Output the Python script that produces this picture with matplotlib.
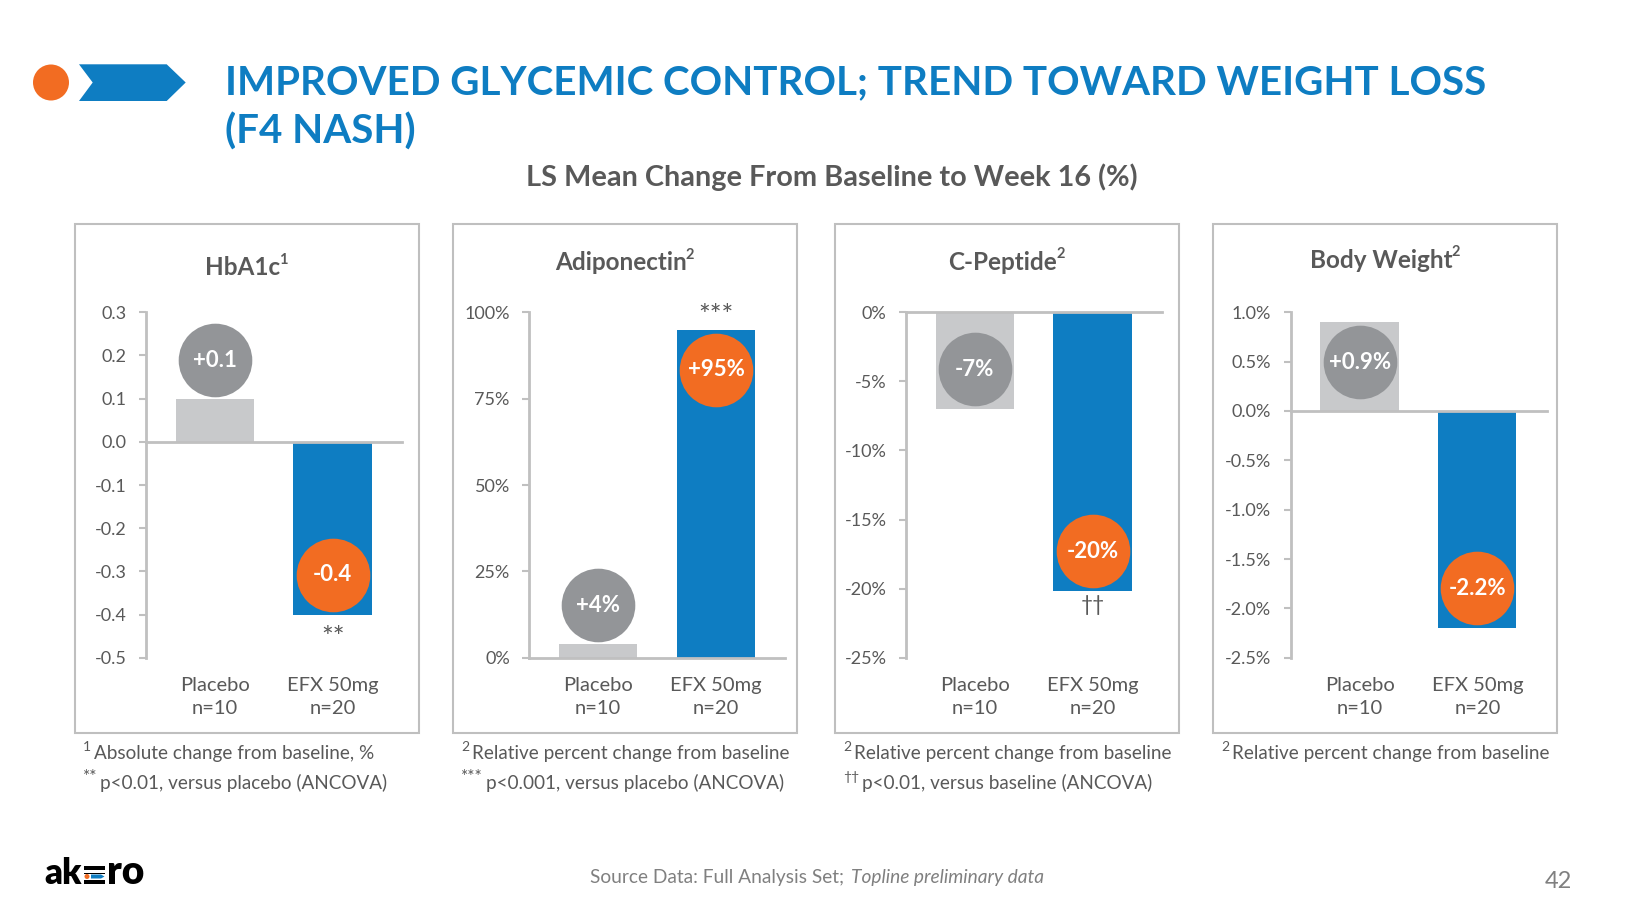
import matplotlib
matplotlib.use("Agg")
import matplotlib.pyplot as plt
from matplotlib.patches import Rectangle, Polygon, Ellipse
from matplotlib.transforms import offset_copy

plt.rcParams['font.family'] = ['Lato', 'DejaVu Sans']
plt.rcParams['axes.unicode_minus'] = False

# ---------------- data ----------------
main_title = "IMPROVED GLYCEMIC CONTROL; TREND TOWARD WEIGHT LOSS\n(F4 NASH)"
subtitle = "LS Mean Change From Baseline to Week 16 (%)"
categories = ["Placebo\nn=10", "EFX 50mg\nn=20"]
panel_titles = ["HbA1c", "Adiponectin", "C-Peptide", "Body Weight"]
panel_title_marks = ["1", "2", "2", "2"]

hba1c = [0.1, -0.4]
adiponectin = [4, 95]
c_peptide = [-7, -20.2]
body_weight = [0.9, -2.2]

hba1c_labels = ["+0.1", "-0.4"]
adiponectin_labels = ["+4%", "+95%"]
c_peptide_labels = ["-7%", "-20%"]
body_weight_labels = ["+0.9%", "-2.2%"]

hba1c_ticks = [-0.5, -0.4, -0.3, -0.2, -0.1, 0.0, 0.1, 0.2, 0.3]
hba1c_ticklabels = ["-0.5", "-0.4", "-0.3", "-0.2", "-0.1", "0.0", "0.1", "0.2", "0.3"]
adiponectin_ticks = [0, 25, 50, 75, 100]
adiponectin_ticklabels = ["0%", "25%", "50%", "75%", "100%"]
c_peptide_ticks = [-25, -20, -15, -10, -5, 0]
c_peptide_ticklabels = ["-25%", "-20%", "-15%", "-10%", "-5%", "0%"]
body_weight_ticks = [-2.5, -2.0, -1.5, -1.0, -0.5, 0.0, 0.5, 1.0]
body_weight_ticklabels = ["-2.5%", "-2.0%", "-1.5%", "-1.0%", "-0.5%", "0.0%", "0.5%", "1.0%"]

significance = ["**", "***", "††", ""]

footnotes = [
    [("1", "Absolute change from baseline, %"), ("**", "p<0.01, versus placebo (ANCOVA)")],
    [("2", "Relative percent change from baseline"), ("***", "p<0.001, versus placebo (ANCOVA)")],
    [("2", "Relative percent change from baseline"), ("††", "p<0.01, versus baseline (ANCOVA)")],
    [("2", "Relative percent change from baseline")],
]
source_regular = "Source Data: Full Analysis Set; "
source_italic = "Topline preliminary data"
page_number = "42"

# ---------------- style / layout ----------------
W, H, DPI = 1634, 919, 100
BLUE = "#0E7DC2"
ORANGE = "#F26C22"
BAR_GRAY = "#C8C9CB"
CIRCLE_GRAY = "#939598"
TEXT_GRAY = "#595959"
LIGHT = "#C0C0C0"

fig = plt.figure(figsize=(W / DPI, H / DPI), dpi=DPI)
fig.patch.set_facecolor("white")


def fx(x):
    return x / W


def fy(y):
    return 1 - y / H


# header logo: orange dot + blue chevron
fig.patches.append(Ellipse((fx(51), fy(82.5)), 36 / W, 36 / H, transform=fig.transFigure,
                           facecolor=ORANGE, edgecolor="none"))
chev = [(79, 64.3), (166.7, 64.3), (185.7, 82.5), (166.7, 101), (79, 101), (92.7, 82.5)]
fig.patches.append(Polygon([(fx(a), fy(b)) for a, b in chev], closed=True,
                           transform=fig.transFigure, facecolor=BLUE, edgecolor="none"))

renderer = fig.canvas.get_renderer()


def width_of(t):
    return t.get_window_extent(renderer).width


def fit_text(x, y, s, target_w, **kw):
    t = fig.text(x, y, s, **kw)
    t.set_fontsize(t.get_fontsize() * target_w / width_of(t))
    return t


# main title (two lines)
lines = main_title.split("\n")
t1 = fit_text(fx(225), fy(83), lines[0], 1262, fontsize=30, fontweight="bold",
              color=BLUE, ha="left", va="center")
fig.text(fx(225), fy(132), lines[1], fontsize=t1.get_fontsize(), fontweight="bold",
         color=BLUE, ha="left", va="center")

fit_text(fx(832), fy(177), subtitle, 611, fontsize=20, fontweight="bold",
         color=TEXT_GRAY, ha="center", va="center")

# panels
box_lefts = [75, 453, 835, 1213]
box_w = 344
axes_lefts = [146, 529.3, 906, 1290.7]
axes_w = 256
ax_top, ax_bot = 312.3, 657.7

values = [hba1c, adiponectin, c_peptide, body_weight]
labels = [hba1c_labels, adiponectin_labels, c_peptide_labels, body_weight_labels]
ticks = [hba1c_ticks, adiponectin_ticks, c_peptide_ticks, body_weight_ticks]
ticklabels = [hba1c_ticklabels, adiponectin_ticklabels, c_peptide_ticklabels, body_weight_ticklabels]
title_y = [268, 263, 262, 260]
sig_offset_px = [24, 13, 14, 0]
sig_size = [20, 20, 15, 14]

for i in range(4):
    bl = box_lefts[i]
    fig.patches.append(Rectangle((fx(bl), fy(733)), box_w / W, (733 - 224) / H,
                                 transform=fig.transFigure, facecolor="none",
                                 edgecolor="#BFBFBF", linewidth=1.5))
    # panel title with superscript mark
    tt = fig.text(0, fy(title_y[i]), panel_titles[i], fontsize=17.5, fontweight="bold",
                  color=TEXT_GRAY, ha="left", va="center")
    st = fig.text(0, fy(title_y[i] - 8), panel_title_marks[i], fontsize=10.5,
                  fontweight="bold", color=TEXT_GRAY, ha="left", va="center")
    tw, sw = width_of(tt), width_of(st)
    x0 = bl + box_w / 2 - (tw + sw) / 2
    tt.set_x(fx(x0))
    st.set_x(fx(x0 + tw - 1))

    ax = fig.add_axes([fx(axes_lefts[i]), fy(ax_bot), axes_w / W, (ax_bot - ax_top) / H])
    ax.set_facecolor("none")
    tk = ticks[i]
    ax.set_ylim(min(tk), max(tk))
    ax.set_xlim(-0.585, 1.589)
    xs = list(range(len(categories)))
    vals = values[i]
    ax.bar(xs, vals, width=0.665, color=[BAR_GRAY, BLUE], zorder=2)
    ax.axhline(0, color=LIGHT, linewidth=2, zorder=3, clip_on=False)
    for s in ["top", "right", "bottom"]:
        ax.spines[s].set_visible(False)
    ax.spines["left"].set_color(LIGHT)
    ax.spines["left"].set_linewidth(2)
    ax.set_yticks(tk)
    ax.set_yticklabels(ticklabels[i])
    ax.tick_params(axis="y", length=5, width=1.5, color=LIGHT, pad=9,
                   labelsize=13, labelcolor=TEXT_GRAY)
    ax.set_xticks(xs)
    ax.set_xticklabels(categories, linespacing=1.45)
    ax.tick_params(axis="x", length=0, pad=14, labelsize=14.5, labelcolor=TEXT_GRAY)

    circ_colors = [CIRCLE_GRAY, ORANGE]
    for j, v in enumerate(vals):
        p0 = ax.transData.transform((0, 0))[1]
        p1 = ax.transData.transform((0, v))[1]
        length = abs(p1 - p0)
        sgn = 1 if v > 0 else -1
        off_px = -sgn * 40 if length > 80 else sgn * 38.5
        tr = offset_copy(ax.transData, fig=fig, x=0, y=off_px * 72 / DPI, units="points")
        ax.plot([j], [v], "o", ms=53, mfc=circ_colors[j], mec="none",
                transform=tr, clip_on=False, zorder=5)
        ax.text(j, v, labels[i][j], transform=tr, ha="center", va="center",
                fontsize=16, fontweight="bold", color="white", zorder=6, clip_on=False)

    if significance[i]:
        v = vals[1]
        sgn = 1 if v > 0 else -1
        tr = offset_copy(ax.transData, fig=fig, x=0,
                         y=sgn * sig_offset_px[i] * 72 / DPI, units="points")
        ax.text(1, v, significance[i], transform=tr, ha="center", va="center",
                fontsize=sig_size[i], color=TEXT_GRAY, clip_on=False)

    # footnotes
    for k, (mark, txt) in enumerate(footnotes[i]):
        y = 753 + 30 * k
        mx = bl + 8
        msize = 12.5 if "*" in mark else 10
        m = fig.text(fx(mx), fy(y - 6), mark, fontsize=msize, color=TEXT_GRAY,
                     ha="left", va="center")
        mw = width_of(m)
        fig.text(fx(mx + mw + 3), fy(y), txt, fontsize=13.6, color=TEXT_GRAY,
                 ha="left", va="center")

# source line
fig.text(fx(849), fy(878), source_regular, fontsize=13.8, color="#808080",
         ha="right", va="center")
fig.text(fx(851), fy(878), source_italic, fontsize=13.8, color="#808080",
         style="italic", ha="left", va="center")
fig.text(fx(1558), fy(882), page_number, fontsize=17, color="#808080",
         ha="center", va="center")

# akero logo
fig.text(fx(44), fy(884), "ak", fontsize=25, fontweight="heavy", color="black",
         ha="left", va="baseline")
fig.text(fx(107), fy(884), "ro", fontsize=28, fontweight="heavy", color="black",
         ha="left", va="baseline")
for yb in [869.5, 876.5, 883.5]:
    fig.patches.append(Rectangle((fx(84), fy(yb)), 21 / W, 3.5 / H, transform=fig.transFigure,
                                 facecolor="black", edgecolor="none"))
fig.patches.append(Rectangle((fx(83), fy(879.5)), 23 / W, 6 / H, transform=fig.transFigure,
                             facecolor="white", edgecolor="none"))
fig.patches.append(Ellipse((fx(87), fy(876.5)), 5 / W, 5 / H, transform=fig.transFigure,
                           facecolor=ORANGE, edgecolor="none"))
fig.patches.append(Polygon([(fx(91), fy(874.5)), (fx(101), fy(874.5)), (fx(104.5), fy(876.5)),
                            (fx(101), fy(878.5)), (fx(91), fy(878.5))], closed=True,
                           transform=fig.transFigure, facecolor=BLUE, edgecolor="none"))

fig.savefig("out.png", dpi=DPI, facecolor="white")
